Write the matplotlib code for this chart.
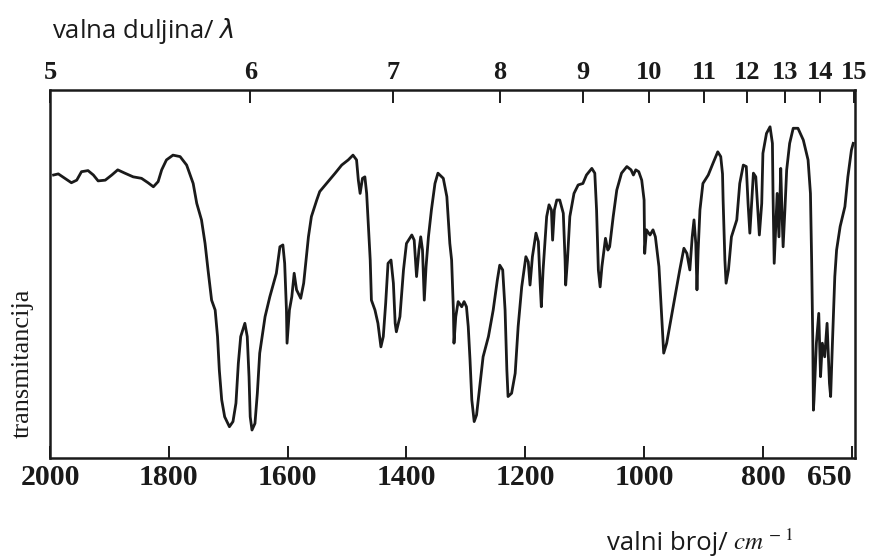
import numpy as np
import matplotlib
matplotlib.use("Agg")
import matplotlib.pyplot as plt

# spectrum (wavenumber in cm-1, transmittance in % of frame height)
wavenumber = [1994, 1986, 1975, 1964, 1955, 1947, 1936, 1927, 1919, 1907,
              1896, 1886, 1874, 1860, 1846, 1835, 1826, 1818, 1812, 1804,
              1793, 1781, 1770, 1759, 1753, 1745, 1739, 1734, 1728, 1722,
              1718, 1715, 1711, 1706, 1698, 1692, 1687, 1683, 1679, 1672,
              1668, 1665, 1663, 1660, 1655, 1651, 1647, 1638, 1630, 1619,
              1613, 1608, 1605, 1602, 1601, 1597, 1593, 1589, 1585, 1578,
              1573, 1565, 1560, 1551, 1546, 1532, 1520, 1509, 1498, 1490,
              1484, 1481, 1478, 1474, 1470, 1467, 1464, 1461, 1459, 1453,
              1448, 1443, 1439, 1435, 1431, 1426, 1422, 1419, 1417, 1411,
              1405, 1400, 1391, 1387, 1383, 1379, 1376, 1373, 1370, 1367,
              1363, 1358, 1352, 1347, 1338, 1332, 1327, 1324, 1321, 1320,
              1317, 1313, 1307, 1303, 1299, 1296, 1293, 1290, 1286, 1282,
              1276, 1271, 1262, 1254, 1247, 1243, 1238, 1234, 1231, 1229,
              1223, 1217, 1212, 1206, 1199, 1195, 1192, 1188, 1182, 1178,
              1175, 1173, 1170, 1164, 1160, 1156, 1154, 1151, 1147, 1142,
              1136, 1133, 1132, 1129, 1125, 1118, 1111, 1103, 1097, 1088,
              1083, 1080, 1077, 1074, 1071, 1065, 1061, 1058, 1052, 1046,
              1038, 1029, 1022, 1018, 1014, 1009, 1004, 1000, 999, 996,
              990, 985, 981, 975, 971, 967, 962, 955, 948, 940,
              933, 928, 923, 919, 916, 913, 911, 909, 906, 901,
              892, 884, 876, 871, 868, 867, 864, 862, 858, 853,
              844, 839, 833, 828, 825, 822, 819, 816, 812, 809,
              806, 802, 800, 794, 788, 784, 783, 781, 778, 776,
              773, 770, 768, 766, 763, 760, 755, 749, 741, 732,
              724, 720, 718, 716, 715, 714, 710, 706, 703, 700,
              696, 692, 688, 686, 683, 679, 676, 670, 662, 657,
              651, 648]

transmittance = [76.9, 77.2, 76.0, 74.8, 75.5, 77.8, 78.1, 76.9, 75.3, 75.5,
                 76.9, 78.3, 77.4, 76.4, 76.0, 74.8, 73.7, 75.1, 78.3, 81.0,
                 82.3, 81.9, 79.6, 74.6, 69.2, 64.7, 58.3, 51.1, 42.9, 40.2,
                 33.0, 23.9, 15.8, 11.2, 8.5, 9.9, 14.9, 25.7, 33.0, 36.6,
                 33.0, 22.1, 11.2, 7.6, 9.4, 17.6, 28.5, 38.4, 43.8, 50.2,
                 57.4, 57.9, 52.9, 40.2, 31.2, 40.2, 43.8, 50.2, 45.7, 43.4,
                 47.5, 60.1, 65.6, 70.1, 72.4, 75.1, 77.4, 79.6, 81.0, 82.3,
                 81.0, 75.5, 71.9, 76.0, 76.4, 71.9, 62.9, 53.8, 42.9, 40.2,
                 36.6, 30.2, 33.0, 42.0, 52.9, 53.8, 47.5, 36.6, 34.3, 38.4,
                 51.1, 58.3, 60.6, 59.2, 49.3, 56.5, 60.1, 56.5, 42.9, 52.0,
                 60.1, 67.4, 74.6, 77.4, 76.0, 71.0, 58.3, 53.8, 40.2, 31.2,
                 38.4, 42.5, 41.1, 42.5, 41.1, 35.7, 26.6, 15.8, 9.9, 11.7,
                 20.3, 27.5, 33.0, 40.2, 48.4, 52.4, 51.1, 40.2, 23.9, 16.7,
                 17.6, 23.0, 35.7, 46.5, 54.7, 53.3, 47.0, 54.7, 61.1, 58.8,
                 47.5, 41.1, 51.1, 65.6, 68.8, 67.4, 59.2, 67.4, 70.1, 70.1,
                 66.5, 53.8, 47.0, 53.8, 65.6, 71.9, 74.2, 74.6, 76.9, 78.7,
                 77.4, 67.4, 51.1, 46.5, 52.0, 59.7, 56.5, 57.4, 65.6, 72.8,
                 77.4, 79.2, 78.3, 76.9, 78.3, 77.8, 75.5, 70.1, 55.6, 62.0,
                 60.6, 62.0, 60.1, 52.0, 40.2, 28.5, 31.2, 37.5, 43.8, 51.1,
                 57.0, 55.6, 51.1, 60.1, 64.7, 58.3, 45.7, 56.5, 67.4, 74.6,
                 76.9, 80.1, 83.2, 81.9, 77.2, 70.1, 53.8, 47.5, 51.1, 60.1,
                 64.7, 74.6, 79.6, 79.2, 69.2, 61.1, 69.2, 77.4, 76.4, 68.3,
                 60.6, 69.2, 82.8, 88.2, 90.0, 85.5, 71.9, 52.9, 64.7, 71.9,
                 60.1, 78.7, 67.4, 57.4, 67.4, 78.3, 85.5, 89.6, 89.6, 86.4,
                 81.0, 71.9, 53.8, 31.2, 13.0, 15.8, 31.2, 39.3, 22.1, 31.2,
                 27.5, 36.6, 20.3, 16.7, 31.2, 49.3, 56.5, 62.9, 68.3, 76.4,
                 83.7, 85.5]

wn_ticks = [2000, 1800, 1600, 1400, 1200, 1000, 800, 650]
wn_labels = ["2000", "1800", "1600", "1400", "1200", "1000", "800", "650"]

# wavelength scale on top (um), placed where the scan puts it
wl_labels = ["5", "6", "7", "8", "9", "10", "11", "12", "13", "14", "15"]
wl_pos = [2000, 1663, 1423, 1243, 1103, 992, 899, 827, 763, 704, 647]

W, H = 884, 557
fig = plt.figure(figsize=(W / 100, H / 100), dpi=100)
ax = fig.add_axes([50 / W, 99 / H, 805 / W, 368 / H])

ax.plot(wavenumber, transmittance, color="#1a1a1a", lw=2.0, solid_joinstyle="round")
ax.set_xlim(2000, 645)
ax.set_ylim(0, 100)
ax.set_yticks([])

for s in ax.spines.values():
    s.set_linewidth(1.8)
    s.set_color("#1a1a1a")

tick_font = dict(family="Liberation Serif", weight="bold", size=21.5)
ax.set_xticks(wn_ticks)
ax.set_xticklabels(wn_labels, fontdict=tick_font)
ax.tick_params(axis="x", direction="in", length=9, width=1.4, pad=4, colors="#1a1a1a")
lab650 = ax.get_xticklabels()[-1]
lab650.set_horizontalalignment("right")

top = ax.twiny()
top.set_xlim(ax.get_xlim())
top.set_xticks(wl_pos)
top.set_xticklabels(wl_labels, fontdict=dict(family="Liberation Serif", weight="bold", size=19))
top.tick_params(axis="x", direction="in", length=9, width=1.4, pad=4, colors="#1a1a1a")
for s in top.spines.values():
    s.set_visible(False)

fig.text(52 / W, 1 - 38 / H, "valna duljina/ $\\lambda$", family="Open Sans",
         size=18.5, ha="left", va="baseline", color="#1a1a1a")
fig.text(607 / W, 1 - 550 / H, "valni broj/ ", family="Open Sans",
         size=18.5, ha="left", va="baseline", color="#1a1a1a")
fig.text(733 / W, 1 - 550 / H, "$cm^{\\,-\\,1}$", size=18, ha="left", va="baseline",
         color="#1a1a1a", math_fontfamily="stix")
fig.text(23 / W, 1 - 363 / H, "transmitancija", family="Liberation Serif",
         size=19, rotation=90, ha="center", va="center", color="#1a1a1a")

fig.savefig("out.png", dpi=100)
